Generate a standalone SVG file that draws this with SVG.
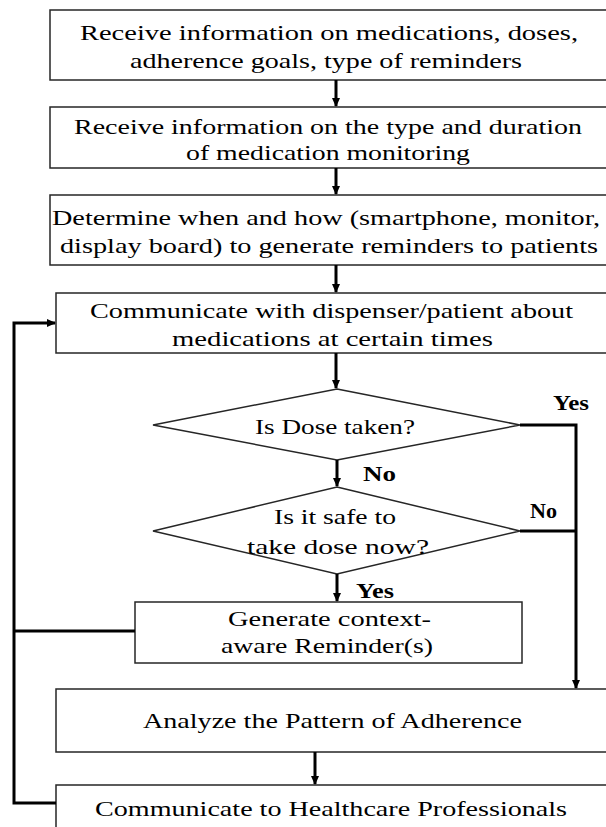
<svg xmlns="http://www.w3.org/2000/svg" width="606" height="827" viewBox="0 0 606 827">
  <style>
    .box { fill: #ffffff; stroke: #262626; stroke-width: 1.5; }
    .t { font-family: "Liberation Serif", "Times New Roman", serif; font-size: 22px; fill: #000; }
    .lbl { font-family: "Liberation Serif", "Times New Roman", serif; font-size: 20px; font-weight: bold; fill: #000; }
    .wire { fill: none; stroke: #000; stroke-width: 3; }
  </style>
  <defs>
    <marker id="arrow" markerWidth="10" markerHeight="10" refX="8" refY="5" orient="auto" markerUnits="userSpaceOnUse">
      <path d="M0,1 L9,5 L0,9 Z" fill="#000"/>
    </marker>
  </defs>
  <rect width="606" height="827" fill="#ffffff"/>

  <g id="receive-meds">
    <rect class="box" x="50" y="10" width="570" height="70"/>
    <text class="t" x="80" y="40" textLength="498" lengthAdjust="spacingAndGlyphs">Receive information on medications, doses,</text>
    <text class="t" x="130" y="68" textLength="392" lengthAdjust="spacingAndGlyphs">adherence goals, type of reminders</text>
  </g>
  <g id="receive-monitoring">
    <rect class="box" x="50" y="107" width="570" height="61"/>
    <text class="t" x="74" y="134" textLength="508" lengthAdjust="spacingAndGlyphs">Receive information on the type and duration</text>
    <text class="t" x="186" y="160" textLength="284" lengthAdjust="spacingAndGlyphs">of medication monitoring</text>
  </g>
  <g id="determine">
    <rect class="box" x="50" y="195" width="570" height="70"/>
    <text class="t" x="52" y="225" textLength="548" lengthAdjust="spacingAndGlyphs">Determine when and how (smartphone, monitor,</text>
    <text class="t" x="60" y="253" textLength="538" lengthAdjust="spacingAndGlyphs">display board) to generate reminders to patients</text>
  </g>
  <g id="communicate-dispenser">
    <rect class="box" x="56" y="293" width="570" height="60"/>
    <text class="t" x="90" y="318" textLength="483" lengthAdjust="spacingAndGlyphs">Communicate with dispenser/patient about</text>
    <text class="t" x="172" y="346" textLength="321" lengthAdjust="spacingAndGlyphs">medications at certain times</text>
  </g>
  <g id="dose-taken">
    <polygon class="box" points="337,389 520,425 337,460 153,425"/>
    <text class="t" x="255" y="434" textLength="160" lengthAdjust="spacingAndGlyphs">Is Dose taken?</text>
  </g>
  <g id="safe-now">
    <polygon class="box" points="337,487 520,531 337,574 153,531"/>
    <text class="t" x="274" y="524" textLength="122" lengthAdjust="spacingAndGlyphs">Is it safe to</text>
    <text class="t" x="247" y="554" textLength="182" lengthAdjust="spacingAndGlyphs">take dose now?</text>
  </g>
  <g id="generate-reminder">
    <rect class="box" x="135" y="602" width="387" height="61"/>
    <text class="t" x="228" y="626" textLength="203" lengthAdjust="spacingAndGlyphs">Generate context-</text>
    <text class="t" x="221" y="653" textLength="212" lengthAdjust="spacingAndGlyphs">aware Reminder(s)</text>
  </g>
  <g id="analyze">
    <rect class="box" x="56" y="689" width="570" height="63"/>
    <text class="t" x="143" y="728" textLength="379" lengthAdjust="spacingAndGlyphs">Analyze the Pattern of Adherence</text>
  </g>
  <g id="communicate-hcp">
    <rect class="box" x="56" y="785" width="570" height="60"/>
    <text class="t" x="95" y="816" textLength="472" lengthAdjust="spacingAndGlyphs">Communicate to Healthcare Professionals</text>
  </g>

  <g id="connectors">
    <line class="wire" x1="336" y1="80" x2="336" y2="106" marker-end="url(#arrow)"/>
    <line class="wire" x1="336" y1="168" x2="336" y2="194" marker-end="url(#arrow)"/>
    <line class="wire" x1="336" y1="265" x2="336" y2="292" marker-end="url(#arrow)"/>
    <line class="wire" x1="336" y1="353" x2="336" y2="388" marker-end="url(#arrow)"/>
    <line class="wire" x1="337" y1="460" x2="337" y2="486" marker-end="url(#arrow)"/>
    <line class="wire" x1="337" y1="574" x2="337" y2="601" marker-end="url(#arrow)"/>
    <line class="wire" x1="315" y1="752" x2="315" y2="784" marker-end="url(#arrow)"/>
    <polyline class="wire" points="520,425 576,425 576,688" marker-end="url(#arrow)"/>
    <line class="wire" x1="520" y1="531" x2="576" y2="531"/>
    <polyline class="wire" points="135,631 14,631"/>
    <polyline class="wire" points="56,803 14,803 14,323 55,323" marker-end="url(#arrow)"/>
    <text class="lbl" x="553" y="410" textLength="36" lengthAdjust="spacingAndGlyphs">Yes</text>
    <text class="lbl" x="363" y="481" textLength="33" lengthAdjust="spacingAndGlyphs">No</text>
    <text class="lbl" x="530" y="518" textLength="27" lengthAdjust="spacingAndGlyphs">No</text>
    <text class="lbl" x="356" y="598" textLength="38" lengthAdjust="spacingAndGlyphs">Yes</text>
  </g>
</svg>
